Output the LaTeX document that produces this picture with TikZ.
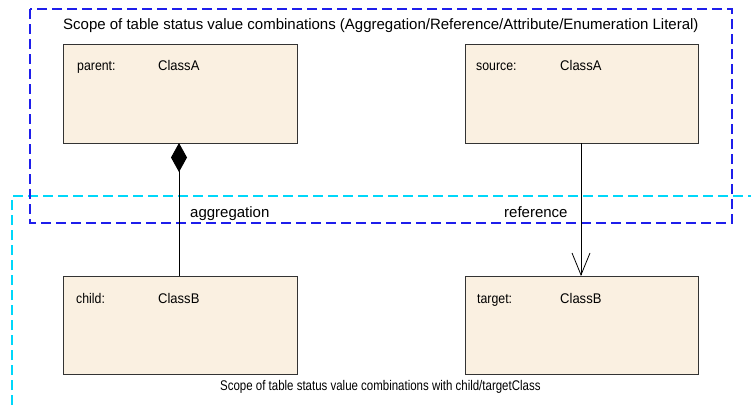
\documentclass[tikz,border=0pt]{standalone}
\usepackage{fontspec}
\setmainfont{Liberation Sans}
\usetikzlibrary{arrows.meta}
\definecolor{boxfill}{RGB}{250,240,225}
\definecolor{scopeblue}{RGB}{30,30,235}
\definecolor{scopecyan}{RGB}{0,215,250}
\tikzset{
  classbox/.style={draw=black!80, line width=1pt, fill=boxfill},
  scopeline/.style={line width=1.2pt, dash pattern=on 10pt off 5pt},
  lbl/.style={anchor=base west, inner sep=0pt, font=\fontsize{15}{18}\selectfont},
  rolelbl/.style={anchor=base west, inner sep=0pt, font=\fontsize{14}{17}\selectfont\addfontfeature{FakeStretch=0.88}},
  clslbl/.style={anchor=base west, inner sep=0pt, font=\fontsize{14}{17}\selectfont\addfontfeature{FakeStretch=0.93}},
  conn/.style={draw=black, line width=0.8pt},
}
\begin{document}
\begin{tikzpicture}[x=1pt,y=-1pt]
\useasboundingbox[fill=white] (0,0) rectangle (751,405);
% cyan scope (open to right and bottom)
\draw[scopecyan, scopeline] (12,405) -- (12,196) -- (751,196);
% blue scope
\draw[scopeblue, scopeline] (30,9) rectangle (732,223);
\node[lbl] (title) at (63,29) {Scope of table status value combinations (Aggregation/Reference/Attribute/Enumeration Literal)};
% boxes
\draw[classbox] (63,44) rectangle (297,143);
\coordinate (parent) at (179,143);
\draw[classbox] (465,44) rectangle (698,143);
\coordinate (source) at (581,143);
\draw[classbox] (63,276) rectangle (297,374);
\coordinate (child) at (179,276);
\draw[classbox] (465,276) rectangle (698,374);
\coordinate (target) at (581,276);
\node[rolelbl] (pl) at (77,70) {parent:};
\node[clslbl] (pc) at (158,70) {ClassA};
\node[rolelbl] (sl) at (476,70) {source:};
\node[clslbl] (sc) at (560,70) {ClassA};
\node[rolelbl] (cl) at (76,303) {child:};
\node[clslbl] (cc) at (158,303) {ClassB};
\node[rolelbl] (tl) at (477,303) {target:};
\node[clslbl] (tc) at (560,303) {ClassB};
% connectors
\draw[conn, {Diamond[length=29pt,width=16pt,fill=black]}-] (parent) -- (child);
\draw[conn, -{Straight Barb[length=22pt,width=18pt,line width=0.8pt]}] (source) -- (target);
\node[lbl] (agg) at (190,217) {aggregation};
\node[lbl] (ref) at (504,217) {reference};
\node[anchor=base west, inner sep=0pt, font=\fontsize{14}{17}\selectfont\addfontfeature{FakeStretch=0.82}] (bottom) at (220,390) {Scope of table status value combinations with child/targetClass};
\end{tikzpicture}
\end{document}
